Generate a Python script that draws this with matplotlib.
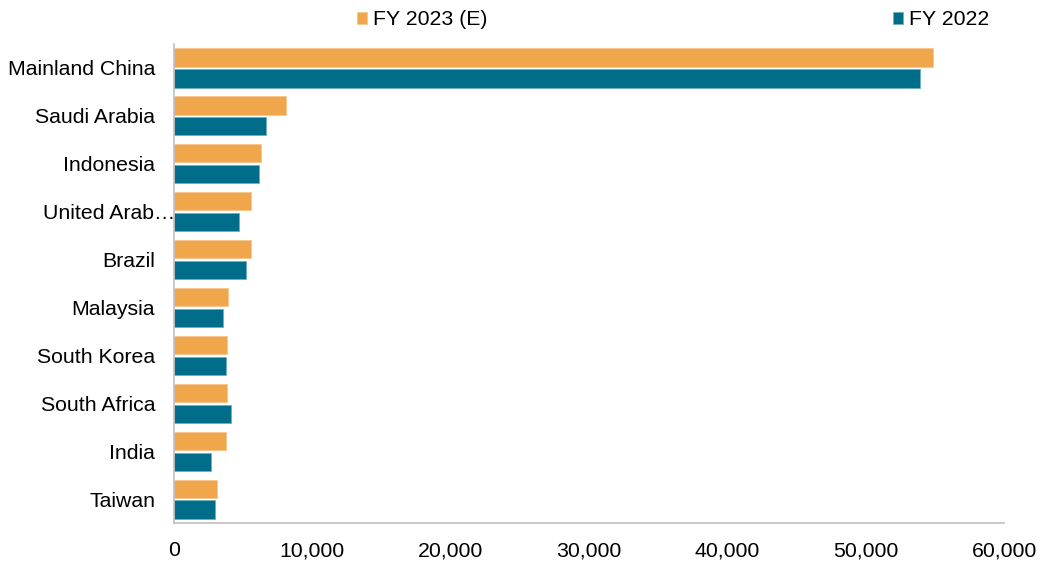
import numpy as np
import matplotlib
matplotlib.use("Agg")
import matplotlib.pyplot as plt
import matplotlib.transforms as mtransforms
from matplotlib.ticker import FuncFormatter

plt.rcParams["font.family"] = ["Liberation Sans", "DejaVu Sans"]

countries = [
    "Mainland China", "Saudi Arabia", "Indonesia", "United Arab\u2026", "Brazil",
    "Malaysia", "South Korea", "South Africa", "India", "Taiwan",
]
fy2023_e = [54860, 8100, 6270, 5590, 5550, 3930, 3810, 3810, 3760, 3090]
fy2022 = [53960, 6650, 6120, 4720, 5230, 3520, 3740, 4120, 2700, 2960]

ORANGE = "#F0A64B"
TEAL = "#006E8A"
GRID_GREY = "#BFBFBF"
FS = 15.3

fig = plt.figure(figsize=(10.4, 5.63), dpi=100)
ax = fig.add_axes([0.1673, 0.0710, 0.7981, 0.8508])

y = np.arange(len(countries))
h = 0.38
off = 0.218
b23 = ax.barh(y - off, fy2023_e, height=h, color=ORANGE, edgecolor="#F6C68C",
              linewidth=0.6, label="FY 2023 (E)")
b22 = ax.barh(y + off, fy2022, height=h, color=TEAL, edgecolor="#6FAFBF",
              linewidth=0.6, label="FY 2022")

ax.set_ylim(len(countries) - 0.5, -0.5)
ax.set_xlim(0, 60000)
ax.set_xticks(np.arange(0, 60001, 10000))
ax.xaxis.set_major_formatter(FuncFormatter(lambda v, _: f"{v:,.0f}"))
ax.set_yticks(y)
ax.set_yticklabels(countries)

for s in ["top", "right"]:
    ax.spines[s].set_visible(False)
for s in ["left", "bottom"]:
    ax.spines[s].set_color(GRID_GREY)
    ax.spines[s].set_linewidth(1.2)

ax.tick_params(axis="both", length=0, labelsize=FS, colors="#000000")
ax.tick_params(axis="x", pad=13)
ax.tick_params(axis="y", pad=13.5)

# the truncated label runs on into the axis line
lbl = ax.get_yticklabels()[3]
lbl.set_transform(lbl.get_transform() + mtransforms.ScaledTranslation(0.205, 0, fig.dpi_scale_trans))

fig.legend(handles=[b23, b22], loc="center left", bbox_to_anchor=(0.343, 0.9645),
           ncol=2, frameon=False, fontsize=FS, handlelength=0.47, handleheight=0.47,
           handletextpad=0.28, columnspacing=19.1, borderaxespad=0, borderpad=0)

fig.savefig("out.png", dpi=100)
